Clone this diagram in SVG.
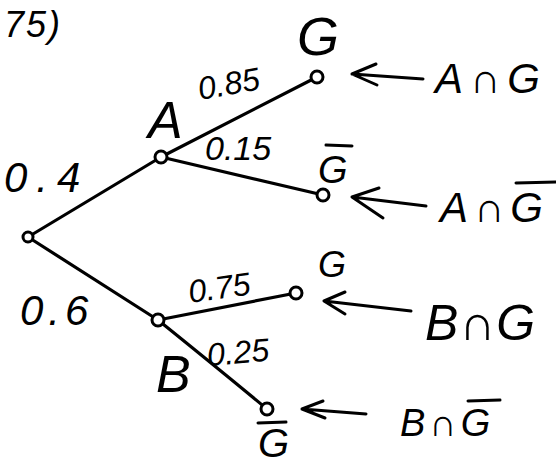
<svg xmlns="http://www.w3.org/2000/svg" width="556" height="464" viewBox="0 0 556 464">
<style>
.t{font-family:"Liberation Sans",Arial,sans-serif;fill:#000;font-style:italic}
.edge{stroke:#000;stroke-width:3.2;fill:none;stroke-linecap:round}
.node{fill:#fff;stroke:#000;stroke-width:3}
.bar{stroke:#000;stroke-width:3;stroke-linecap:round}
.arr{stroke:#000;stroke-width:3;fill:none;stroke-linecap:round;stroke-linejoin:round}
</style>
<rect width="556" height="464" fill="#fff"/>
<text class="t" x="4" y="37" font-size="36" letter-spacing="2">75)</text>
<g id="connectors">
<path class="edge" d="M28,237 L161,157"/>
<path class="edge" d="M161,157 L317,77"/>
<path class="edge" d="M161,157 L323,195"/>
<path class="edge" d="M28,237 L158,320"/>
<path class="edge" d="M158,320 L296,293"/>
<path class="edge" d="M158,320 Q220,370 267,409"/>
<path class="arr" d="M423,79 L352,74 M376,64 L352,74 L377,85"/>
<path class="arr" d="M426,206 L352,197 M379,188 L352,197 L383,218"/>
<path class="arr" d="M411,311 L324,301 M345,292 L324,301 L345,314"/>
<path class="arr" d="M366,414 L302,409 M323,401 L302,409 L325,418"/>
</g>
<g id="root"><circle class="node" cx="28" cy="237" r="5"/></g>
<g id="nodeA"><circle class="node" cx="161" cy="157" r="6"/><text class="t" x="148" y="138" font-size="52" font-style="normal">A</text></g>
<g id="nodeB"><circle class="node" cx="158" cy="320" r="6"/><text class="t" x="156" y="392" font-size="52" font-style="normal">B</text></g>
<g id="leafAG"><circle class="node" cx="317" cy="77" r="6"/><text class="t" x="297" y="55" font-size="54">G</text></g>
<g id="leafAGbar"><circle class="node" cx="323" cy="195" r="6"/><line class="bar" x1="326" y1="145" x2="352" y2="146"/><text class="t" x="318" y="183" font-size="38">G</text></g>
<g id="leafBG"><circle class="node" cx="296" cy="293" r="6"/><text class="t" x="318" y="277" font-size="36">G</text></g>
<g id="leafBGbar"><circle class="node" cx="267" cy="409" r="6"/><line class="bar" x1="258" y1="423" x2="286" y2="422"/><text class="t" x="258" y="457" font-size="40">G</text></g>
<g id="labels">
<text class="t" x="4" y="192" font-size="42" letter-spacing="9">0.4</text>
<text class="t" x="20" y="325" font-size="42" letter-spacing="5">0.6</text>
<text class="t" x="200" y="100" font-size="32" transform="rotate(-10 200 100)">0.85</text>
<text class="t" x="205" y="160" font-size="34">0.15</text>
<text class="t" x="190" y="303" font-size="32" transform="rotate(-8 190 303)">0.75</text>
<text class="t" x="208" y="366" font-size="32" transform="rotate(-5 208 366)">0.25</text>
</g>
<g id="eventAG"><text class="t" x="435" y="93" font-size="42" font-style="normal" letter-spacing="7">A∩G</text></g>
<g id="eventAGbar"><text class="t" x="440" y="222" font-size="42" font-style="normal" letter-spacing="6">A∩G</text><line class="bar" x1="516" y1="183" x2="556" y2="182"/></g>
<g id="eventBG"><text class="t" x="425" y="340" font-size="50" font-style="normal" letter-spacing="1">B∩G</text></g>
<g id="eventBGbar"><text class="t" x="400" y="436" font-size="38" font-style="normal" letter-spacing="4">B∩G</text><line class="bar" x1="468" y1="401" x2="500" y2="400"/></g>
</svg>
